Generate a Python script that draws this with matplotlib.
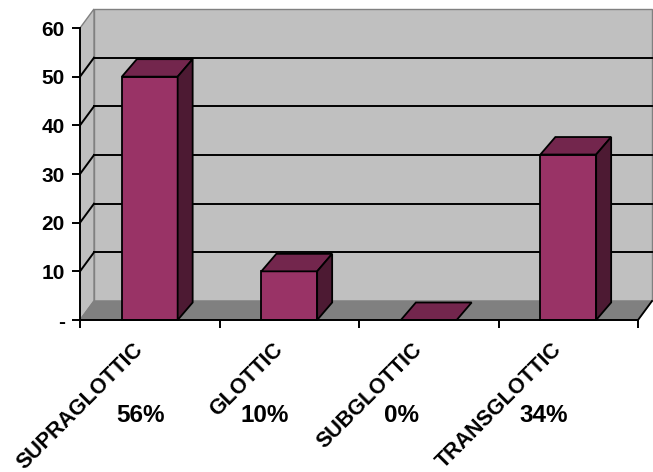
import matplotlib.pyplot as plt
from matplotlib.patches import Polygon

plt.rcParams['font.family'] = ['Liberation Sans', 'DejaVu Sans']
plt.rcParams['font.weight'] = 'bold'

# data
categories = ["SUPRAGLOTTIC", "GLOTTIC", "SUBGLOTTIC", "TRANSGLOTTIC"]
values = [50, 10, 0, 34]
percent_labels = ["56%", "10%", "0%", "34%"]
y_ticks = [0, 10, 20, 30, 40, 50, 60]
y_tick_labels = ["-", "10", "20", "30", "40", "50", "60"]

front = '#993366'
top_col = '#73264d'
side_col = '#4d1a33'
wall = '#c0c0c0'
floor_col = '#808080'

fig = plt.figure(figsize=(6.53, 4.72), dpi=100)
ax = fig.add_axes([80 / 653, 1 - 320 / 472, 558 / 653, 292 / 472])
ncat = len(categories)
ymax = y_ticks[-1]
ax.set_xlim(0, ncat)
ax.set_ylim(0, ymax)
ax.patch.set_visible(False)

# depth offsets (data units) for the fake 3d look
px_x = 558 / ncat
px_y = 292 / ymax
wdx, wdy = 14 / px_x, 19 / px_y
bdx, bdy = 15 / px_x, 17.5 / px_y

# back wall, left wall, floor
ax.add_patch(Polygon([(wdx, wdy), (ncat + wdx, wdy), (ncat + wdx, ymax + wdy), (wdx, ymax + wdy)],
                     closed=True, fc=wall, ec=floor_col, lw=1, zorder=0, clip_on=False))
ax.add_patch(Polygon([(0, 0), (wdx, wdy), (wdx, ymax + wdy), (0, ymax)],
                     closed=True, fc=wall, ec=floor_col, lw=1, zorder=0, clip_on=False))
ax.add_patch(Polygon([(0, 0), (ncat, 0), (ncat + wdx, wdy), (wdx, wdy)],
                     closed=True, fc=floor_col, ec=floor_col, lw=1, zorder=0.5, clip_on=False))
ax.plot([ncat, ncat + wdx], [0, wdy], color='black', lw=1.3, zorder=4, clip_on=False)

# gridlines on back and left wall
for v in y_ticks[1:-1]:
    ax.plot([wdx, ncat + wdx], [v + wdy, v + wdy], color='black', lw=1.4, zorder=1, clip_on=False)
    ax.plot([0, wdx], [v, v + wdy], color='black', lw=1.4, zorder=1, clip_on=False)

# bars
xs = [i + 0.5 for i in range(ncat)]
w = 0.4
ax.bar(xs, values, width=w, color=front, edgecolor='black', lw=1.3, zorder=3, clip_on=False)
for x, v in zip(xs, values):
    x0, x1 = x - w / 2, x + w / 2
    ax.add_patch(Polygon([(x0, v), (x0 + bdx, v + bdy), (x1 + bdx, v + bdy), (x1, v)],
                         closed=True, fc=top_col, ec='black', lw=1.3, zorder=3, clip_on=False))
    if v > 0:
        ax.add_patch(Polygon([(x1, 0), (x1, v), (x1 + bdx, v + bdy), (x1 + bdx, bdy)],
                             closed=True, fc=side_col, ec='black', lw=1.3, zorder=3, clip_on=False))

# axes
for s in ['top', 'right']:
    ax.spines[s].set_visible(False)
for s in ['left', 'bottom']:
    ax.spines[s].set_linewidth(1.4)
    ax.spines[s].set_zorder(4)
ax.set_yticks(y_ticks)
ax.set_yticklabels(y_tick_labels, fontsize=15, fontweight='bold')
ax.set_xticks(range(ncat + 1))
ax.set_xticklabels([])
ax.tick_params(axis='y', direction='out', length=6, width=1.4, pad=5)
ax.tick_params(axis='x', direction='out', length=6, width=1.4)

# category labels and percentages
pct_shift = [-7, -17.5, -19.5, -17.5]
for x, name, pct, sh in zip(xs, categories, percent_labels, pct_shift):
    ax.annotate(name, xy=(x, 0), xytext=(-7, -19), textcoords='offset points',
                rotation=45, rotation_mode='anchor', ha='right', va='center',
                fontsize=15.5, fontweight='bold', annotation_clip=False)
    ax.annotate(pct, xy=(x, 0), xytext=(sh, -69), textcoords='offset points',
                ha='center', va='center', fontsize=17.5, fontweight='bold',
                annotation_clip=False)

fig.savefig('out.png', dpi=100)
